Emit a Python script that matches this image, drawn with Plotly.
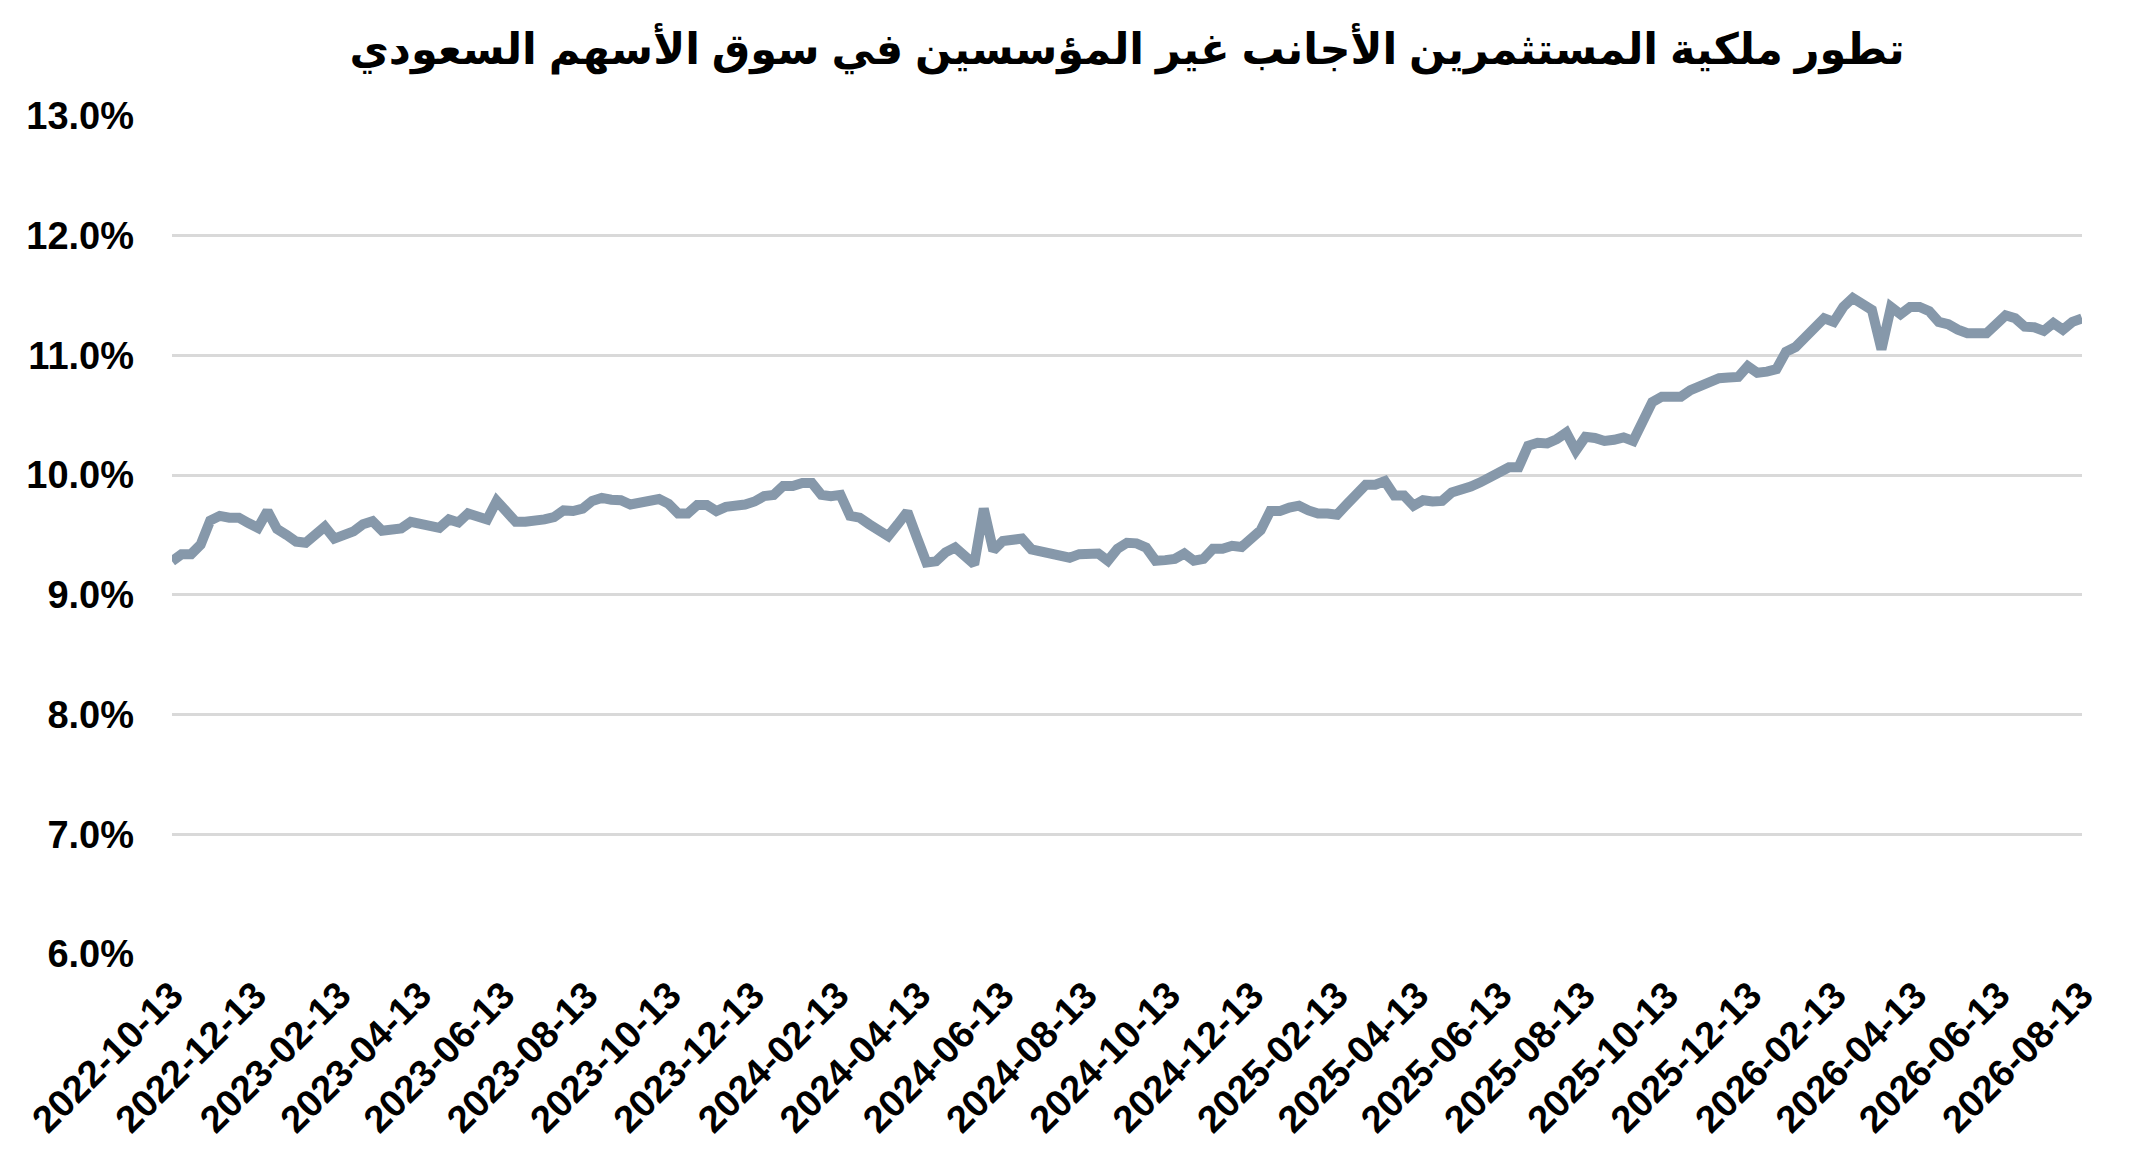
import pandas as pd
import plotly.graph_objects as go

# weekly readings (% of market held by non-institutional foreign investors)
start_date = "2022-10-13"
ownership_pct = [
    9.28, 9.34, 9.34, 9.42, 9.62, 9.66, 9.645, 9.645, 9.60, 9.56,
    9.70, 9.55, 9.50, 9.445, 9.435, 9.49, 9.57, 9.47, 9.50, 9.53,
    9.59, 9.615, 9.535, 9.555, 9.555, 9.61, 9.595, 9.575, 9.56, 9.63,
    9.605, 9.68, 9.66, 9.63, 9.785, 9.685, 9.61, 9.61, 9.61, 9.63,
    9.65, 9.705, 9.70, 9.72, 9.785, 9.81, 9.795, 9.79, 9.755, 9.77,
    9.77, 9.80, 9.76, 9.68, 9.68, 9.75, 9.75, 9.70, 9.735, 9.735,
    9.755, 9.78, 9.825, 9.835, 9.91, 9.91, 9.935, 9.935, 9.835, 9.825,
    9.835, 9.66, 9.645, 9.59, 9.53, 9.49, 9.59, 9.695, 9.48, 9.27,
    9.28, 9.355, 9.395, 9.31, 9.255, 9.72, 9.37, 9.45, 9.465, 9.47,
    9.38, 9.365, 9.345, 9.33, 9.31, 9.34, 9.34, 9.345, 9.285, 9.385,
    9.435, 9.43, 9.395, 9.285, 9.29, 9.30, 9.345, 9.285, 9.30, 9.385,
    9.385, 9.41, 9.40, 9.48, 9.54, 9.70, 9.70, 9.73, 9.745, 9.705,
    9.68, 9.68, 9.67, 9.755, 9.84, 9.92, 9.92, 9.95, 9.83, 9.83,
    9.745, 9.79, 9.78, 9.785, 9.855, 9.875, 9.905, 9.94, 9.98, 10.035,
    10.065, 10.065, 10.245, 10.27, 10.265, 10.30, 10.355, 10.205, 10.32, 10.31,
    10.285, 10.295, 10.315, 10.285, 10.45, 10.61, 10.655, 10.655, 10.655, 10.71,
    10.745, 10.78, 10.81, 10.815, 10.82, 10.91, 10.855, 10.865, 10.885, 11.03,
    11.07, 11.15, 11.24, 11.31, 11.28, 11.405, 11.48, 11.435, 11.38, 11.05,
    11.405, 11.345, 11.405, 11.405, 11.37, 11.28, 11.26, 11.215, 11.185, 11.185,
    11.185, 11.26, 11.335, 11.31, 11.24, 11.235, 11.205, 11.27, 11.215, 11.28,
    11.31,
]
week_dates = pd.date_range(start_date, periods=len(ownership_pct), freq="7D")

# x ticks every two months on the 13th
tick_dates = pd.date_range("2022-10-01", "2026-08-01", freq="2MS") + pd.Timedelta(days=12)
y_ticks = [6, 7, 8, 9, 10, 11, 12, 13]
y_labels = [f"{v:.1f}%" for v in y_ticks]

title_text = "تطور ملكية المستثمرين الأجانب غير المؤسسين في سوق الأسهم السعودي"

tick_font = dict(family="Arial, Liberation Sans", size=38, color="black", weight="bold")

trace = go.Scatter(
    x=week_dates,
    y=ownership_pct,
    mode="lines",
    line=dict(color="#8698AA", width=10),
    hoverinfo="x+y",
)

# the page body adds an 8px margin, so the figure margins are pulled in by 8
layout = go.Layout(
    width=2145,
    height=1167,
    paper_bgcolor="white",
    plot_bgcolor="white",
    margin=dict(l=164, r=71, t=108, b=221),
    title=dict(
        text=title_text,
        x=0.5,
        xref="paper",
        xanchor="center",
        y=0.965,
        yanchor="middle",
        font=dict(family="Arial, DejaVu Sans", size=43, color="black", weight="bold"),
    ),
    xaxis=dict(
        range=[week_dates[0], week_dates[-1]],
        tickvals=list(tick_dates),
        tickformat="%Y-%m-%d",
        tickangle=-45,
        showgrid=False,
        showline=False,
        zeroline=False,
        ticks="",
        ticklabelstandoff=10,
        tickfont=tick_font,
    ),
    yaxis=dict(
        range=[6, 13],
        tickvals=y_ticks,
        ticktext=y_labels,
        showgrid=True,
        gridcolor="#D9D9D9",
        gridwidth=3,
        showline=False,
        zeroline=False,
        ticks="",
        ticklabelstandoff=37,
        tickfont=tick_font,
    ),
    showlegend=False,
    hovermode="closest",
)

fig = go.Figure(data=[trace], layout=layout)
fig.write_html("out.html")
